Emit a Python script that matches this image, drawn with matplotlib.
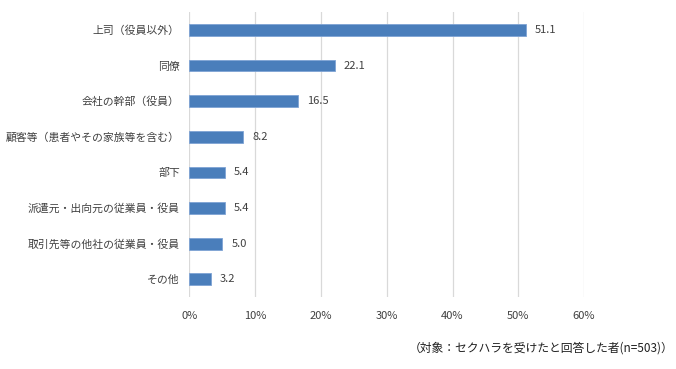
import matplotlib
matplotlib.use("Agg")
from matplotlib import pyplot as plt
from matplotlib.ticker import FuncFormatter

plt.rcParams['font.family'] = ['Noto Sans CJK JP', 'DejaVu Sans']

# data, top to bottom as shown
categories = ["上司（役員以外）", "同僚", "会社の幹部（役員）", "顧客等（患者やその家族等を含む）",
              "部下", "派遣元・出向元の従業員・役員", "取引先等の他社の従業員・役員", "その他"]
values = [51.1, 22.1, 16.5, 8.2, 5.4, 5.4, 5.0, 3.2]
xticks = [0, 10, 20, 30, 40, 50, 60]
note = "（対象：セクハラを受けたと回答した者(n=503)）"

text_col = "#404040"

fig = plt.figure(figsize=(6.76, 3.69), dpi=100)
ax = fig.add_axes([0.2803, 0.195, 0.5837, 0.772])

pos = list(range(len(categories)))
ax.barh(pos, values, height=0.33, color="#4a7ebb", edgecolor="#7ea3d4", linewidth=0.6, zorder=3)

for p, v in zip(pos, values):
    ax.text(v + 1.4, p, f"{v:.1f}", va="center", ha="left", fontsize=8, color=text_col)

ax.set_ylim(len(categories) - 0.5, -0.5)
ax.set_xlim(0, 60)
ax.set_yticks(pos)
ax.set_yticklabels(categories, fontsize=7.8, color=text_col)
ax.set_xticks(xticks)
ax.xaxis.set_major_formatter(FuncFormatter(lambda x, _: f"{x:.0f}%"))
ax.tick_params(axis="x", labelsize=8, colors=text_col, length=0, pad=10)
ax.tick_params(axis="y", length=0, pad=7)
ax.grid(axis="x", color="#d9d9d9", linewidth=0.9, zorder=0)
for s in ax.spines.values():
    s.set_visible(False)

fig.text(0.997, 0.057, note, ha="right", va="center", fontsize=8.5, color="#202020")

fig.savefig("out.png", dpi=100)
